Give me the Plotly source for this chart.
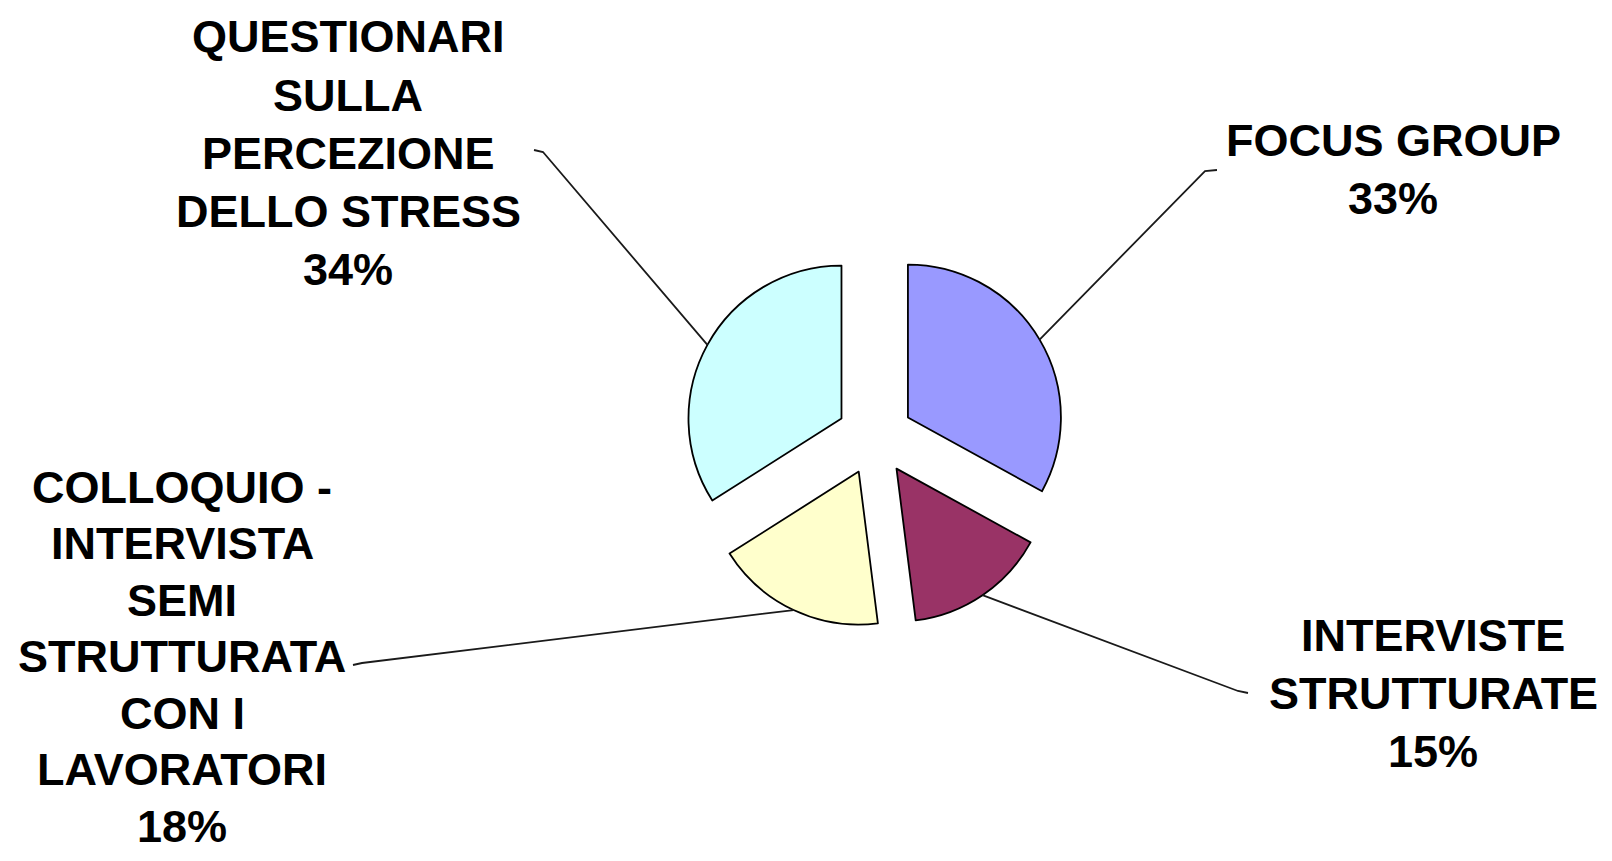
import math
import plotly.graph_objects as go

# data
labels = ["FOCUS GROUP", "INTERVISTE STRUTTURATE",
          "COLLOQUIO - INTERVISTA SEMI STRUTTURATA CON I LAVORATORI",
          "QUESTIONARI SULLA PERCEZIONE DELLO STRESS"]
label_lines = [["FOCUS GROUP"],
               ["INTERVISTE", "STRUTTURATE"],
               ["COLLOQUIO -", "INTERVISTA", "SEMI", "STRUTTURATA", "CON I", "LAVORATORI"],
               ["QUESTIONARI", "SULLA", "PERCEZIONE", "DELLO STRESS"]]
values = [33, 15, 18, 34]
colors = ["#9999FF", "#993366", "#FFFFCC", "#CCFFFF"]

# page is 1612x861 but the html body keeps an 8px margin
PAGE_W, PAGE_H = 1612, 861
OFF = 8
W, H = PAGE_W - 2 * OFF, PAGE_H - 2 * OFF

PIE_CX, PIE_CY = 875, 437   # page pixels
PIE_R = 153
PULL = 0.25

# centre x / first line y / line gap of each label, and leader-line bends (page pixels)
label_pos = [(1393, 140, 58), (1433, 635, 58), (182, 487, 56.5), (348, 37, 58)]
bends = [[(1205, 171), (1217, 170)],
         [(1238, 691), (1248, 693)],
         [(362, 663), (353, 665)],
         [(543, 152), (534, 150)]]


def px(x, y):
    return (x - OFF) / W, 1 - (y - OFF) / H


half = PIE_R * (1 + PULL)
x0, y0 = px(PIE_CX - half, PIE_CY + half)
x1, y1 = px(PIE_CX + half, PIE_CY - half)
fig = go.Figure(go.Pie(
    labels=labels, values=values, sort=False, direction="clockwise",
    rotation=0, pull=[PULL] * 4, textinfo="none", hoverinfo="label+percent",
    marker=dict(colors=colors, line=dict(color="#000000", width=1.8)),
    domain=dict(x=[x0, x1], y=[y0, y1]),
))

total = sum(values)
shapes = []
annotations = []
cum = 0
for i, v in enumerate(values):
    mid = (cum + v / 2) / total * 2 * math.pi
    cum += v
    ex = PIE_CX + half * math.sin(mid)
    ey = PIE_CY - half * math.cos(mid)
    pts = [px(ex, ey)] + [px(*p) for p in bends[i]]
    path = "M %f %f" % pts[0] + "".join(" L %f %f" % p for p in pts[1:])
    shapes.append(dict(type="path", xref="paper", yref="paper", path=path,
                       line=dict(color="#1a1a1a", width=1.8)))

    lines = label_lines[i] + ["%d%%" % round(v / total * 100)]
    cx, top, gap = label_pos[i]
    for k, txt in enumerate(lines):
        lx, ly = px(cx, top + k * gap)
        annotations.append(dict(
            x=lx, y=ly, xref="paper", yref="paper", xanchor="center", yanchor="middle",
            text="<b>%s</b>" % txt, showarrow=False,
            font=dict(family="Liberation Sans, Arial", size=45, color="#000000")))

fig.update_layout(
    width=W, height=H, margin=dict(l=0, r=0, t=0, b=0),
    paper_bgcolor="white", plot_bgcolor="white", showlegend=False,
    shapes=shapes, annotations=annotations)

fig.write_html("out.html")
